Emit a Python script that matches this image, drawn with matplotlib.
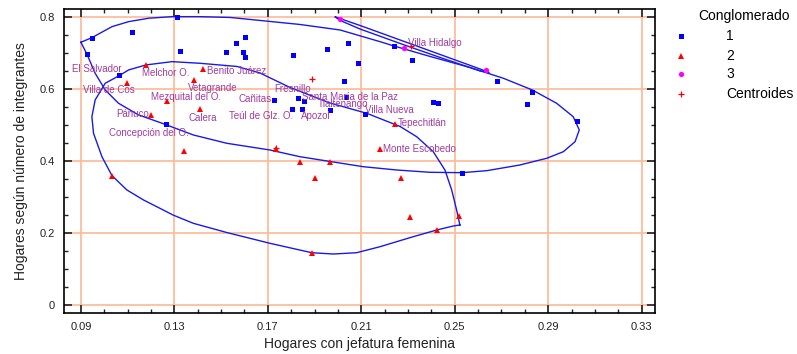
import matplotlib
matplotlib.use('Agg')
import matplotlib.pyplot as plt
from matplotlib.lines import Line2D
from matplotlib.ticker import MultipleLocator
import numpy as np

plt.rcParams['font.family'] = ['Liberation Sans', 'DejaVu Sans']

# cluster 1 (blue squares)
c1_x = [0.0947, 0.1120, 0.1312, 0.0926, 0.1324, 0.1521, 0.1562, 0.1602, 0.1592, 0.1602,
        0.1064, 0.1266, 0.1809, 0.1953, 0.2044, 0.2086, 0.2026, 0.1726, 0.1828, 0.1855,
        0.1803, 0.1845, 0.1965, 0.2034, 0.2114, 0.2239, 0.2318, 0.2682, 0.2832, 0.2407,
        0.2430, 0.2809, 0.3022, 0.2531]
c1_y = [0.7433, 0.7583, 0.8009, 0.6972, 0.7072, 0.7036, 0.7294, 0.7461, 0.7036, 0.6905,
        0.6382, 0.5042, 0.6952, 0.7111, 0.7294, 0.6721, 0.6229, 0.5709, 0.5765, 0.5681,
        0.5442, 0.5442, 0.5431, 0.5793, 0.5311, 0.7202, 0.6805, 0.6229, 0.5915, 0.5637,
        0.5626, 0.5590, 0.5125, 0.3679]

# cluster 2 (red triangles)
c2_x = [0.1178, 0.1424, 0.1097, 0.1382, 0.1269, 0.1409, 0.1198, 0.1340, 0.1031, 0.1733,
        0.1838, 0.1965, 0.1903, 0.1888, 0.2180, 0.2244, 0.2271, 0.2307, 0.2517, 0.2424]
c2_y = [0.6674, 0.6554, 0.6182, 0.6257, 0.5681, 0.5442, 0.5284, 0.4274, 0.3596, 0.4338,
        0.3985, 0.3968, 0.3540, 0.1454, 0.4330, 0.5033, 0.3540, 0.2455, 0.2475, 0.2086]

# cluster 3 (magenta circles)
c3_x = [0.2010, 0.2284, 0.2634]
c3_y = [0.7953, 0.7155, 0.6527]

# centroids
cen_x = [0.1888, 0.1733, 0.2313]
cen_y = [0.6293, 0.4352, 0.7211]

# outlines
loop1_x = [0.0900, 0.0947, 0.1033, 0.1104, 0.1190, 0.1290, 0.1409, 0.1538, 0.1666, 0.1837,
           0.2009, 0.2180, 0.2240, 0.2394, 0.2565, 0.2708, 0.2832, 0.2936, 0.3007, 0.3033,
           0.3015, 0.2965, 0.2894, 0.2779, 0.2637, 0.2530, 0.2394, 0.2251, 0.2108, 0.1966,
           0.1837, 0.1709, 0.1524, 0.1381, 0.1290, 0.1238, 0.1147, 0.1061, 0.1004, 0.0961,
           0.0926, 0.0900]
loop1_y = [0.7305, 0.7433, 0.7739, 0.7878, 0.7973, 0.8017, 0.8017, 0.7995, 0.7912, 0.7800,
           0.7647, 0.7322, 0.7202, 0.6911, 0.6605, 0.6304, 0.5979, 0.5609, 0.5236, 0.4867,
           0.4541, 0.4263, 0.4080, 0.3893, 0.3735, 0.3679, 0.3690, 0.3754, 0.3846, 0.3991,
           0.4124, 0.4310, 0.4497, 0.4728, 0.4950, 0.5075, 0.5284, 0.5609, 0.5979, 0.6443,
           0.6972, 0.7305]

loop2_x = [0.2522, 0.2508, 0.2487, 0.2458, 0.2408, 0.2337, 0.2266, 0.2123, 0.1966, 0.1795,
           0.1666, 0.1568, 0.1409, 0.1290, 0.1178, 0.1104, 0.1064, 0.1004, 0.0961, 0.0947,
           0.0954, 0.0990, 0.1033, 0.1097, 0.1168, 0.1238, 0.1294, 0.1381, 0.1524, 0.1709,
           0.1888, 0.1980, 0.2080, 0.2180, 0.2322, 0.2423, 0.2494, 0.2522]
loop2_y = [0.2225, 0.2642, 0.3198, 0.3754, 0.4263, 0.4680, 0.4964, 0.5331, 0.5617, 0.6048,
           0.6452, 0.6632, 0.6721, 0.6766, 0.6674, 0.6535, 0.6377, 0.6165, 0.5701, 0.5236,
           0.4775, 0.4124, 0.3596, 0.3198, 0.2920, 0.2689, 0.2503, 0.2272, 0.2016, 0.1716,
           0.1454, 0.1418, 0.1454, 0.1621, 0.1899, 0.2086, 0.2197, 0.2225]

loop3_x = [0.1989, 0.2094, 0.2266, 0.2437, 0.2608, 0.2647, 0.2608, 0.2437, 0.2266, 0.2094,
           0.2009, 0.1989]
loop3_y = [0.8009, 0.7773, 0.7369, 0.6966, 0.6563, 0.6466, 0.6507, 0.6883, 0.7272, 0.7675,
           0.7912, 0.8009]

label_names = ['El Salvador', 'Villa de Cos', 'Melchor O.', 'Benito Juárez', 'Vetagrande',
               'Mezquital del O.', 'Pánuco', 'Calera', 'Concepción del O.', 'Cañitas',
               'Teúl de Glz. O.', 'Apozol', 'Fresnillo', 'Santa María de la Paz',
               'Tlaltenango', 'Villa Nueva', 'Tepechitlán', 'Monte Escobedo', 'Villa Hidalgo']
label_x = [0.0864, 0.0907, 0.1162, 0.1438, 0.1359, 0.1198, 0.1050, 0.1361, 0.1021, 0.1573,
           0.1535, 0.1840, 0.1726, 0.1845, 0.1916, 0.2116, 0.2258, 0.2194, 0.2301]
label_y = [0.6563, 0.5979, 0.6460, 0.6516, 0.6043, 0.5793, 0.5320, 0.5200, 0.4791, 0.5737,
           0.5264, 0.5264, 0.6015, 0.5793, 0.5581, 0.5431, 0.5070, 0.4330, 0.7294]

legend_labels = ['1', '2', '3', 'Centroides']

fig = plt.figure(figsize=(7.97, 3.54), dpi=100)
ax = fig.add_axes([0.0807, 0.115, 0.7411, 0.8596])

grid_col = '#FDBD9C'
for gx in np.arange(0.09, 0.34, 0.04):
    ax.axvline(gx, color=grid_col, lw=1.3, zorder=0)
for gy in np.arange(0, 0.81, 0.2):
    ax.axhline(gy, color=grid_col, lw=1.3, zorder=0)

ax.plot(loop1_x, loop1_y, color='#1A1AE6', lw=1, zorder=2)
ax.plot(loop2_x, loop2_y, color='#1A1AE6', lw=1, zorder=2)
ax.plot(loop3_x, loop3_y, color='#1A1AE6', lw=1, zorder=2)

ax.plot(c1_x, c1_y, 's', color='#0000FF', ms=3.6, mew=0, zorder=3)
ax.plot(c2_x, c2_y, '^', color='#FF0000', ms=3.8, mew=0, zorder=3)
ax.plot(c3_x, c3_y, 'o', color='#FF00FF', ms=3.8, mew=0, zorder=3)
ax.plot(cen_x, cen_y, '+', color='#FF0000', ms=4, mew=0.9, zorder=4)

for name, tx, ty in zip(label_names, label_x, label_y):
    ax.text(tx, ty, name, fontsize=7, color='#A03CA0', ha='left', va='center', zorder=5)

ax.set_xlim(0.0829, 0.3357)
ax.set_ylim(-0.023, 0.823)
ax.xaxis.set_minor_locator(MultipleLocator(0.01))
ax.yaxis.set_minor_locator(MultipleLocator(0.05))
ax.set_xticks(np.arange(0.09, 0.34, 0.04))
ax.set_xticklabels(['0.09', '0.13', '0.17', '0.21', '0.25', '0.29', '0.33'])
ax.set_yticks([0, 0.2, 0.4, 0.6, 0.8])
ax.set_yticklabels(['0', '0.2', '0.4', '0.6', '0.8'])
ax.tick_params(which='both', direction='in', top=True, right=True, colors='#222222',
               labelcolor='#222222')
ax.tick_params(which='major', length=6, width=1.2, labelsize=8)
ax.tick_params(axis='x', which='major', pad=6)
ax.tick_params(axis='y', which='major', pad=7)
ax.tick_params(which='minor', length=3, width=1)
for s in ax.spines.values():
    s.set_linewidth(1.2)

ax.set_xlabel('Hogares con jefatura femenina', fontsize=10, color='#222222', labelpad=4)
ax.set_ylabel('Hogares según número de integrantes', fontsize=10, color='#222222', labelpad=8)

# legend drawn by hand
fig.text(698 / 797, 1 - 16 / 354, 'Conglomerado', fontsize=10, ha='left', va='center')
leg_styles = [('s', '#0000FF', 3.6), ('^', '#FF0000', 3.8), ('o', '#FF00FF', 3.8), ('+', '#FF0000', 4)]
leg_rows = [36, 56, 74, 94]
for (mk, col, ms), row, lab in zip(leg_styles, leg_rows, legend_labels):
    fig.add_artist(Line2D([681 / 797], [1 - row / 354], marker=mk, color=col, ms=ms,
                          mew=0.9 if mk == '+' else 0, linestyle='none',
                          transform=fig.transFigure))
    fig.text(726 / 797, 1 - row / 354, lab, fontsize=10, ha='left', va='center')

fig.savefig('out.png', dpi=100)
